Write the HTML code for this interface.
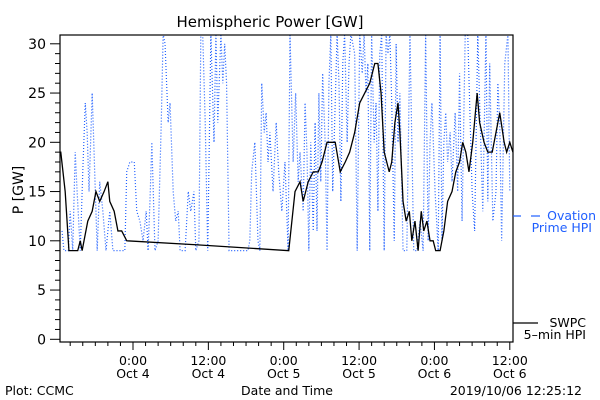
<!DOCTYPE html>
<html><head><meta charset="utf-8"><style>
body{margin:0;background:#fff}
svg{display:block;font-family:"DejaVu Sans","Liberation Sans",sans-serif}
</style></head><body>
<svg id="chart" width="600" height="400" viewBox="0 0 600 400">
<rect x="0" y="0" width="600" height="400" fill="#fff"/>
<text x="270" y="27" font-size="15" text-anchor="middle">Hemispheric Power [GW]</text>
<text transform="translate(23,190) rotate(-90)" font-size="14" text-anchor="middle">P [GW]</text>
<defs><clipPath id="pc"><rect x="60" y="35" width="453" height="307"/></clipPath></defs>
<g id="yaxis"></g>
<g id="xaxis"></g>
<g id="series" clip-path="url(#pc)"></g>
<rect x="60" y="35" width="453" height="307" fill="none" stroke="#000" stroke-width="1.2"/>
<g>
<line x1="513" y1="216" x2="521" y2="216" stroke="#1f5fff" stroke-width="1.2"/>
<line x1="531" y1="216" x2="540" y2="216" stroke="#1f5fff" stroke-width="1.2"/>
<text x="596" y="220" font-size="12.5" fill="#1f5fff" text-anchor="end">Ovation</text>
<text x="592" y="232" font-size="12.5" fill="#1f5fff" text-anchor="end">Prime HPI</text>
</g>
<g>
<line x1="513" y1="323" x2="538" y2="323" stroke="#000" stroke-width="1.2"/>
<text x="586" y="327" font-size="12.5" text-anchor="end">SWPC</text>
<text x="586" y="339" font-size="12.5" text-anchor="end">5–min HPI</text>
</g>
<text x="5" y="395" font-size="12.5">Plot: CCMC</text>
<text x="287" y="395" font-size="12.5" text-anchor="middle">Date and Time</text>
<text x="582" y="395" font-size="12.5" text-anchor="end">2019/10/06 12:25:12</text>
</svg>
<script>
// hours relative to 2019-10-04 00:00
const swpcHours=[-11.6,-11.5,-10.8,-10.2,-8.8,-8.4,-8.1,-7.8,-7.2,-6.5,-5.9,-5.3,-4.6,-4.0,-3.7,-3.0,-2.4,-1.8,-1.0,10,24.8,25.8,26.6,27.1,27.9,28.7,29.5,30.1,30.9,32.2,33.0,33.8,34.5,35.3,36.1,36.9,37.7,38.5,39.0,39.5,40.0,40.8,41.2,41.7,42.2,42.5,43.0,43.5,44.0,44.4,44.9,45.4,45.9,46.3,46.8,47.3,47.8,48.2,48.9,49.5,50.1,50.8,51.4,52.0,52.5,53.0,53.5,54.1,54.8,55.2,55.9,56.5,57.2,57.8,58.4,59.1,59.5,60.0,60.5];
const swpcValues=[19,19,15,9,9,10,9,10,12,13,15,14,15,16,14,13,11,11,10,9.6,9,15,16,14,16,17,17,18,20,20,17,18,19,21,24,25,26,28,28,25,19,17,18,22,24,21,14,12,13,10,12,9,13,11,12,10,10,9,9,11,14,15,17,18,20,19,17,20,25,22,20,19,19,21,23,20,19,20,19];
const ovHours=[-11.3,-11.0,-10.3,-10.0,-9.6,-9.2,-8.9,-8.4,-8.0,-7.6,-7.3,-7.0,-6.5,-6.1,-5.7,-5.3,-4.8,-4.3,-3.7,-3.2,-2.1,-1.3,-1.0,-0.5,0.2,0.6,1.1,1.6,2.1,2.4,2.7,3.0,3.5,4.0,4.5,4.8,5.1,5.6,5.9,6.4,6.8,7.2,7.5,8.3,8.8,9.2,9.7,10.0,10.5,10.8,11.1,11.5,11.9,12.4,12.9,13.2,13.5,14.0,14.3,14.6,14.9,15.3,15.8,16.4,17.0,17.8,18.3,18.6,18.9,19.4,19.9,20.2,20.5,20.9,21.2,21.5,21.8,22.3,22.8,23.2,23.7,24.2,24.7,25.0,25.5,25.9,26.3,26.6,27.1,27.4,27.7,28.0,28.3,28.7,29.0,29.3,29.6,29.9,30.2,30.6,30.9,31.2,31.5,31.8,32.2,32.5,32.8,33.1,33.4,33.7,34.1,34.4,34.7,35.0,35.3,35.7,36.1,36.5,36.8,37.1,37.4,37.7,38.0,38.4,38.7,39.0,39.3,39.6,40.0,40.3,40.6,40.9,41.2,41.6,41.9,42.2,42.5,43.0,43.6,44.1,44.4,44.7,45.2,45.7,46.2,46.6,47.0,47.3,47.6,48.1,48.6,48.9,49.2,49.5,49.8,50.1,50.5,50.8,51.3,51.7,52.0,52.4,52.9,53.3,54.0,54.4,54.9,55.2,55.7,56.2,56.5,56.8,57.3,57.8,58.1,58.4,58.7,59.2,59.7,60.0];
const ovValues=[11,9,9,13,9,19,15,9,17,24,21,15,25,17,9,16,13,9,13,9,9,9,17,18,18,13,12,10,13,9,14,20,9,10,22,31,30,22,24,15,12,13,9,9,15,13,15,9,10,31,31,22,9,31,20,31,22,31,26,30,26,9,9,9,9,9,9,10,17,20,10,9,26,21,23,18,21,15,22,17,13,18,9,31,18,25,16,19,13,24,19,9,20,11,22,11,25,16,27,20,9,26,31,15,24,31,26,14,28,31,20,28,31,30,29,9,31,27,31,25,28,9,31,20,24,13,29,31,9,31,29,31,24,10,30,20,25,9,9,31,20,9,9,12,9,31,10,20,24,15,9,31,10,20,23,18,21,16,23,15,27,12,31,31,15,11,31,24,13,31,14,28,12,15,26,22,10,28,31,15];
const yTickValues=[0,5,10,15,20,25,30];
const xTickHours=[0,12,24,36,48,60];
const xTickLabels=[["0:00","Oct 4"],["12:00","Oct 4"],["0:00","Oct 5"],["12:00","Oct 5"],["0:00","Oct 6"],["12:00","Oct 6"]];

const NS="http://www.w3.org/2000/svg";
const X=h=>133+h*6.28;
const Y=v=>339.3-v*9.85;
function mk(tag,attrs,parent){const e=document.createElementNS(NS,tag);for(const k in attrs)e.setAttribute(k,attrs[k]);parent.appendChild(e);return e;}
const ya=document.getElementById('yaxis'),xa=document.getElementById('xaxis'),sg=document.getElementById('series');
for(let v=0;v<=30;v++){const major=v%5===0;
 const t=mk('line',{x1:major?50:55,x2:60,y1:Y(v),y2:Y(v),stroke:'#000','stroke-width':1},ya);
 
 }
yTickValues.forEach(v=>{const t=mk('text',{x:46,y:Y(v)+5,'font-size':14,'text-anchor':'end'},ya);t.textContent=v;
 
 });
for(let h=-10;h<=60;h+=2){const major=h%12===0;
 const t=mk('line',{x1:X(h),x2:X(h),y1:342,y2:major?350:346,stroke:'#000','stroke-width':1},xa);
 
 }
xTickHours.forEach((h,i)=>{const t=mk('text',{x:X(h),y:365,'font-size':12.5,'text-anchor':'middle'},xa);t.textContent=xTickLabels[i][0];
 
 
 const d=mk('text',{x:X(h),y:378,'font-size':12.5,'text-anchor':'middle'},xa);d.textContent=xTickLabels[i][1];
 
 });
const op=mk('polyline',{points:ovHours.map((h,i)=>X(h)+','+Y(ovValues[i])).join(' '),fill:'none',stroke:'#1f5fff','stroke-width':1.2,'stroke-dasharray':'1 2'},sg);


const sp=mk('polyline',{points:swpcHours.map((h,i)=>X(h)+','+Y(swpcValues[i])).join(' '),fill:'none',stroke:'#000','stroke-width':1.3},sg);


</script>
</body></html>
